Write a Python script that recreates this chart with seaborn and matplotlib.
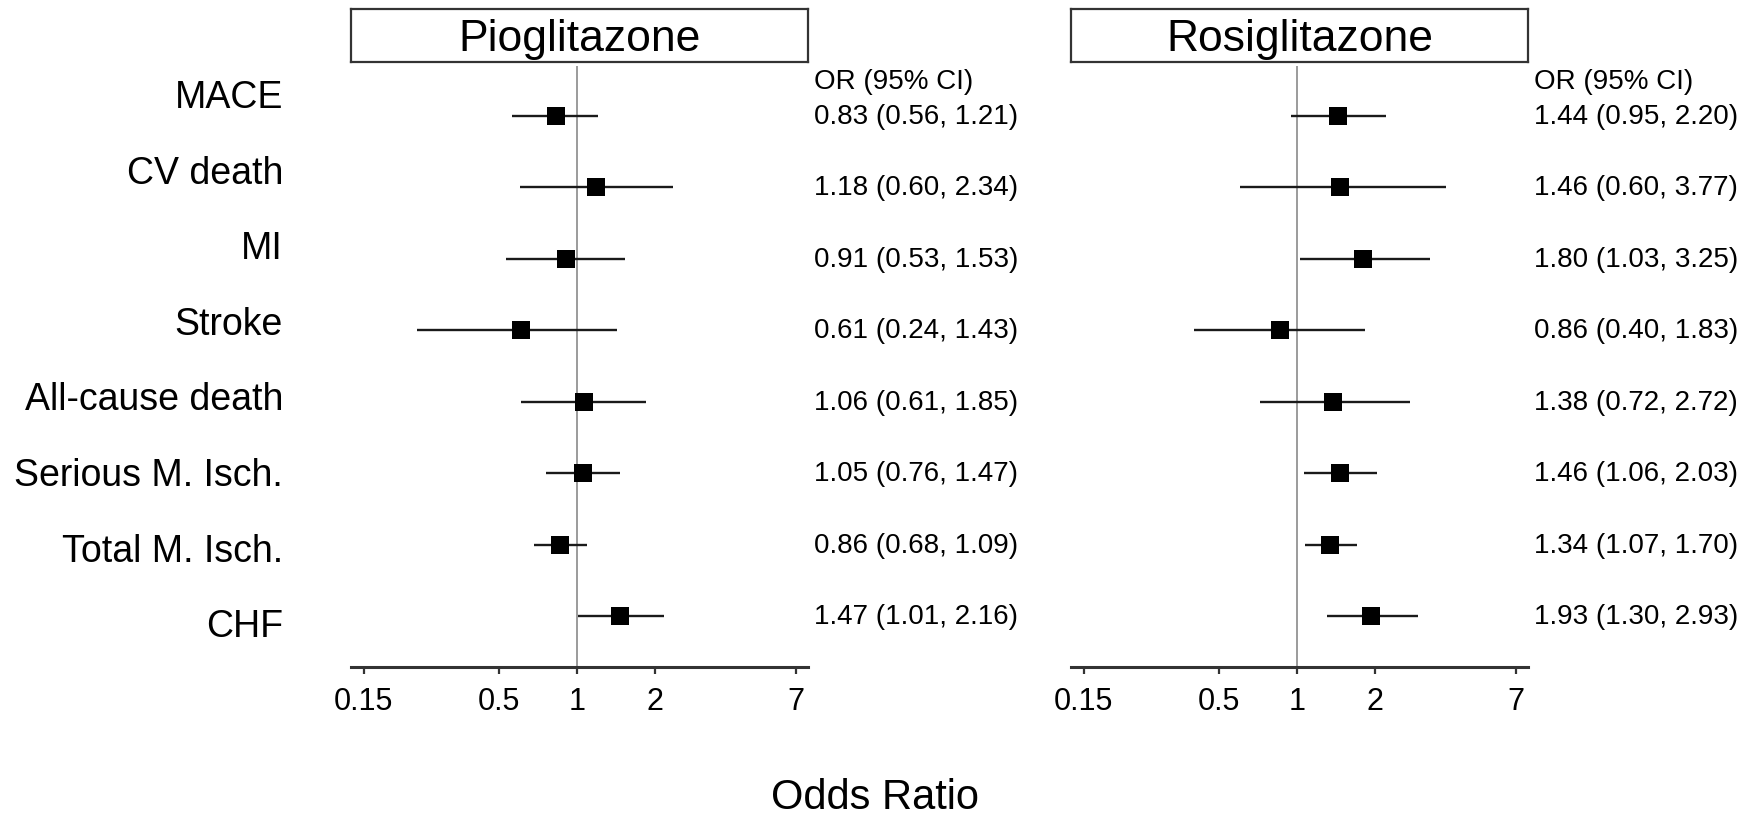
import numpy as np
import pandas as pd
import seaborn as sns
import matplotlib.pyplot as plt
from matplotlib.transforms import blended_transform_factory

# Datos del forest plot
outcomes = ["MACE", "CV death", "MI", "Stroke", "All-cause death",
            "Serious M. Isch.", "Total M. Isch.", "CHF"]

pio_or = [0.83, 1.18, 0.91, 0.61, 1.06, 1.05, 0.86, 1.47]
pio_lo = [0.56, 0.60, 0.53, 0.24, 0.61, 0.76, 0.68, 1.01]
pio_hi = [1.21, 2.34, 1.53, 1.43, 1.85, 1.47, 1.09, 2.16]

rosi_or = [1.44, 1.46, 1.80, 0.86, 1.38, 1.46, 1.34, 1.93]
rosi_lo = [0.95, 0.60, 1.03, 0.40, 0.72, 1.06, 1.07, 1.30]
rosi_hi = [2.20, 3.77, 3.25, 1.83, 2.72, 2.03, 1.70, 2.93]

drugs = ["Pioglitazone", "Rosiglitazone"]
x_ticks = [0.15, 0.5, 1, 2, 7]
x_ticklabels = ["0.15", "0.5", "1", "2", "7"]

sns.set_theme(style="white")
plt.rcParams['font.family'] = ['Liberation Sans', 'DejaVu Sans']
plt.rcParams['text.color'] = 'black'
plt.rcParams['xtick.color'] = 'black'

W, H = 1763, 820
fig = plt.figure(figsize=(W / 100, H / 100), dpi=100)

# posiciones en pixeles (referencia)
ax_lefts = [351, 1071]
ax_w = 457
ax_top, ax_bottom = 67, 668
box_top, box_bottom = 10, 63

frames = [
    pd.DataFrame({"outcome": outcomes, "OR": pio_or, "lo": pio_lo, "hi": pio_hi}),
    pd.DataFrame({"outcome": outcomes, "OR": rosi_or, "lo": rosi_lo, "hi": rosi_hi}),
]

for drug, df, left in zip(drugs, frames, ax_lefts):
    ax = fig.add_axes([left / W, 1 - ax_bottom / H, ax_w / W, (ax_bottom - ax_top) / H])
    df = df.copy()
    df["row"] = np.arange(len(df))

    ax.axvline(1, color="#808080", lw=1.1, zorder=1)
    ax.hlines(df["row"], df["lo"], df["hi"], color="#1a1a1a", lw=1.7, zorder=2)
    sns.scatterplot(data=df, x="OR", y="row", marker="s", s=180, color="black",
                    linewidth=0, ax=ax, zorder=3)

    ax.set_xscale("log")
    ax.set_xlim(0.134, 7.8)
    ax.set_ylim(7.71, -0.70)
    ax.set_xticks(x_ticks)
    ax.set_xticklabels(x_ticklabels)
    ax.minorticks_off()
    ax.tick_params(axis="x", bottom=True, length=5, width=1.6, color="#333333",
                   labelsize=22, labelcolor="black", pad=9)
    ax.set_yticks([])
    ax.set_xlabel("")
    ax.set_ylabel("")
    for side in ["left", "right", "top"]:
        ax.spines[side].set_visible(False)
    ax.spines["bottom"].set_linewidth(2.2)
    ax.spines["bottom"].set_color("#333333")

    # columna OR (95% CI)
    tr = blended_transform_factory(ax.transAxes, ax.transData)
    ax.text(1.013, -0.49, "OR (95% CI)", transform=tr, ha="left", va="center",
            fontsize=20, color="black", clip_on=False)
    for _, r in df.iterrows():
        ax.text(1.013, r["row"], f"{r['OR']:.2f} ({r['lo']:.2f}, {r['hi']:.2f})",
                transform=tr, ha="left", va="center", fontsize=20, color="black",
                clip_on=False)

    # caja del titulo
    bax = fig.add_axes([left / W, 1 - box_bottom / H, ax_w / W, (box_bottom - box_top) / H])
    bax.set_xticks([])
    bax.set_yticks([])
    for s in bax.spines.values():
        s.set_visible(True)
        s.set_linewidth(1.6)
        s.set_color("#333333")
    bax.text(0.5, 0.45, drug, ha="center", va="center", fontsize=32, color="black",
             transform=bax.transAxes)

# etiquetas de los desenlaces
label_top, label_step = 98, 75.6
for i, name in enumerate(outcomes):
    fig.text(283 / W, 1 - (label_top + i * label_step) / H, name,
             ha="right", va="center", fontsize=27, color="black")

fig.text(875 / W, 1 - 798 / H, "Odds Ratio", ha="center", va="center", fontsize=30,
         color="black")

plt.savefig("out.png", dpi=100)
